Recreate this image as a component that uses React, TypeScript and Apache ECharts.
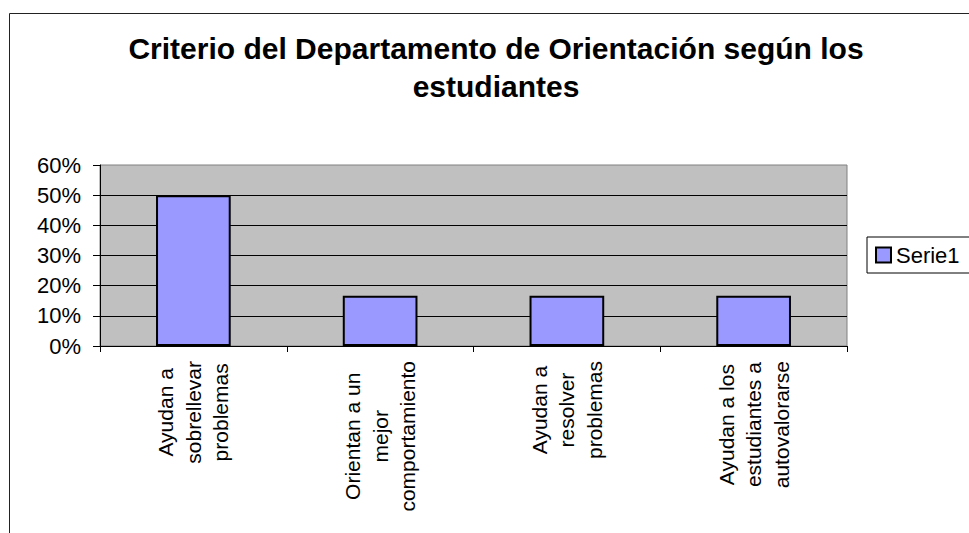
import React, { useEffect, useRef } from 'react';
import * as echarts from 'echarts';

const categories: string[][] = [
  ['Ayudan a', 'sobrellevar', 'problemas'],
  ['Orientan a un', 'mejor', 'comportamiento'],
  ['Ayudan a', 'resolver', 'problemas'],
  ['Ayudan a los', 'estudiantes a', 'autovalorarse'],
];
const categoryLabels = categories.map((l) => l.join('\n'));
const serieName = 'Serie1';
const values = [0.5, 0.1667, 0.1667, 0.1667];
const titleLines = ['Criterio del Departamento de Orientación según los', 'estudiantes'];
const yMin = 0;
const yMax = 0.6;
const yStep = 0.1;

const FONT = '"Liberation Sans", Arial, sans-serif';

export default function App() {
  const ref = useRef<HTMLDivElement>(null);
  useEffect(() => {
    if (!ref.current) return;
    const chart = echarts.init(ref.current, undefined, { renderer: 'svg' });
    chart.setOption({
      animation: false,
      backgroundColor: '#ffffff',
      graphic: [
        {
          type: 'rect',
          shape: { x: 9.5, y: 13.5, width: 1000, height: 600 },
          style: { fill: 'none', stroke: '#222', lineWidth: 1 },
          z: -1,
        },
        {
          type: 'text',
          x: 496,
          y: 29,
          style: {
            text: titleLines.join('\n'),
            textAlign: 'center',
            textVerticalAlign: 'top',
            font: `bold 30px ${FONT}`,
            lineHeight: 38,
            fill: '#000',
          },
        },
      ],
      legend: {
        left: 867,
        top: 237,
        orient: 'vertical',
        padding: [7, 12, 7, 8],
        borderColor: '#000',
        borderWidth: 1,
        backgroundColor: '#fff',
        itemWidth: 15,
        itemHeight: 15,
        itemGap: 0,
        icon: 'rect',
        textStyle: { fontFamily: FONT, fontSize: 22, color: '#000', lineHeight: 22 },
        data: [{ name: serieName, itemStyle: { color: '#9999FF', borderColor: '#000', borderWidth: 2 } }],
      },
      grid: {
        left: 100,
        top: 165,
        right: 122,
        bottom: 187,
        show: true,
        backgroundColor: '#C0C0C0',
        borderColor: '#808080',
        borderWidth: 1,
      },
      xAxis: {
        type: 'category',
        data: categoryLabels,
        axisLine: { show: true, lineStyle: { color: '#000', width: 1 } },
        axisTick: { show: true, alignWithLabel: false, length: 6, lineStyle: { color: '#000' } },
        axisLabel: {
          rotate: 90,
          margin: 15,
          interval: 0,
          formatter: (v: string) => v.split('\n').map((s) => `{c|${s}}`).join('\n'),
          rich: {
            c: { align: 'center', fontFamily: FONT, fontSize: 21, lineHeight: 27.5, color: '#000' },
          },
        },
      },
      yAxis: {
        type: 'value',
        min: yMin,
        max: yMax,
        interval: yStep,
        axisLine: { show: true, lineStyle: { color: '#000', width: 1 } },
        axisTick: { show: true, length: 7, lineStyle: { color: '#000' } },
        axisLabel: {
          margin: 19,
          fontFamily: FONT,
          fontSize: 22,
          color: '#000',
          formatter: (v: number) => `${Math.round(v * 100)}%`,
        },
        splitLine: { show: true, showMinLine: false, showMaxLine: false, lineStyle: { color: '#000', width: 1 } },
      },
      series: [
        {
          name: serieName,
          type: 'bar',
          data: values,
          barWidth: '40%',
          itemStyle: { color: '#9999FF', borderColor: '#000', borderWidth: 2 },
        },
      ],
    });
    return () => chart.dispose();
  }, []);
  return <div ref={ref} style={{ position: 'fixed', left: 0, top: 0, width: 969, height: 533 }} />;
}
